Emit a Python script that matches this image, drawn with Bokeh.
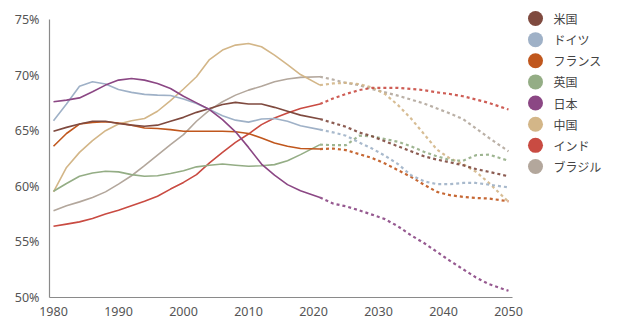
from bokeh.plotting import figure
from bokeh.models import Range1d, FixedTicker, PrintfTickFormatter
from bokeh.core.properties import value
from bokeh.embed import file_html
from bokeh.resources import INLINE

countries = ["米国", "ドイツ", "フランス", "英国", "日本", "中国", "インド", "ブラジル"]
colors = ["#7f4a3f", "#9fb1c7", "#c0571d", "#94ad85", "#8b4784", "#d3b688", "#c94b42", "#b3a79c"]

hist_years = [1980, 1982, 1984, 1986, 1988, 1990, 1992, 1994, 1996, 1998, 2000,
              2002, 2004, 2006, 2008, 2010, 2012, 2014, 2016, 2018, 2021]
proj_years = [2021, 2023, 2025, 2027, 2029, 2031, 2033, 2035, 2037, 2039, 2041,
              2043, 2045, 2047, 2050]

us_hist = [64.95, 65.3, 65.6, 65.85, 65.85, 65.65, 65.5, 65.4, 65.5, 65.85, 66.2,
           66.65, 67.0, 67.35, 67.55, 67.4, 67.4, 67.1, 66.75, 66.4, 66.05]
us_proj = [66.05, 65.7, 65.35, 64.85, 64.5, 64.05, 63.6, 63.15, 62.7, 62.4, 62.15,
           61.9, 61.55, 61.3, 60.9]

de_hist = [65.9, 67.4, 69.0, 69.4, 69.2, 68.7, 68.45, 68.27, 68.2, 68.17, 67.85,
           67.45, 66.9, 66.35, 65.95, 65.77, 66.05, 66.1, 65.85, 65.45, 65.1]
de_proj = [65.1, 64.85, 64.55, 63.95, 63.4, 62.75, 62.0, 61.0, 60.45, 60.2, 60.2,
           60.3, 60.3, 60.15, 59.9]

fr_hist = [63.6, 64.75, 65.6, 65.75, 65.8, 65.7, 65.5, 65.25, 65.2, 65.1, 64.95,
           64.95, 64.95, 64.95, 64.9, 64.75, 64.35, 63.9, 63.6, 63.4, 63.35]
fr_proj = [63.35, 63.4, 63.25, 62.9, 62.55, 62.05, 61.45, 60.85, 60.15, 59.5, 59.2,
           59.05, 58.95, 58.9, 58.65]

uk_hist = [59.55, 60.25, 60.9, 61.2, 61.35, 61.3, 61.05, 60.9, 60.95, 61.15, 61.4,
           61.75, 61.9, 62.0, 61.9, 61.8, 61.85, 61.95, 62.3, 62.85, 63.75]
uk_proj = [63.75, 63.7, 63.7, 64.55, 64.5, 64.25, 64.0, 63.6, 63.1, 62.7, 62.35,
           62.3, 62.8, 62.85, 62.3]

jp_hist = [67.6, 67.75, 67.95, 68.5, 69.1, 69.55, 69.7, 69.55, 69.25, 68.8, 68.1,
           67.5, 66.9, 66.0, 64.9, 63.5, 62.0, 61.0, 60.15, 59.6, 59.0]
jp_proj = [59.0, 58.45, 58.2, 57.85, 57.45, 57.05, 56.4, 55.6, 54.9, 54.1, 53.3,
           52.55, 51.8, 51.2, 50.6]

cn_hist = [59.5, 61.7, 63.05, 64.1, 65.0, 65.6, 65.9, 66.1, 66.75, 67.7, 68.75,
           69.85, 71.4, 72.25, 72.7, 72.85, 72.55, 71.8, 70.95, 70.05, 69.1]
cn_proj = [69.1, 69.25, 69.3, 69.2, 68.9, 68.3, 67.3, 66.1, 64.7, 63.3, 62.5,
           62.0, 61.3, 60.3, 58.6]

in_hist = [56.4, 56.6, 56.8, 57.1, 57.5, 57.85, 58.25, 58.65, 59.1, 59.75, 60.35,
           61.05, 62.1, 63.05, 63.95, 64.7, 65.55, 66.15, 66.6, 67.0, 67.4]
in_proj = [67.4, 67.9, 68.3, 68.65, 68.85, 68.85, 68.85, 68.75, 68.65, 68.45, 68.3,
           68.1, 67.8, 67.5, 66.9]

br_hist = [57.8, 58.25, 58.6, 59.0, 59.5, 60.2, 60.95, 61.85, 62.8, 63.75, 64.65,
           65.85, 66.85, 67.6, 68.2, 68.65, 69.0, 69.4, 69.65, 69.8, 69.85]
br_proj = [69.85, 69.6, 69.3, 69.1, 68.75, 68.45, 68.15, 67.8, 67.45, 67.0, 66.55,
           66.05, 65.2, 64.35, 63.15]

hist = [us_hist, de_hist, fr_hist, uk_hist, jp_hist, cn_hist, in_hist, br_hist]
proj = [us_proj, de_proj, fr_proj, uk_proj, jp_proj, cn_proj, in_proj, br_proj]

x_ticks = [1980, 1990, 2000, 2010, 2020, 2030, 2040, 2050]
y_ticks = [50, 55, 60, 65, 70, 75]

FONT = "Noto Sans"
JP_FONT = "Noto Sans CJK JP"

X0, X1 = 1979.385, 2050.615
p = figure(width=622, height=335, output_backend="svg", toolbar_location=None,
           x_range=Range1d(X0, 2067.54), y_range=Range1d(50, 76.71),
           min_border_left=49, min_border_right=0, min_border_top=0, min_border_bottom=38)
p.outline_line_color = None
p.xgrid.grid_line_color = None
p.ygrid.grid_line_color = None

order = [7, 5, 6, 3, 2, 0, 1, 4]
for i in order:
    p.line(proj_years, proj[i], line_color=colors[i], line_width=2.2,
           line_dash="3 3", line_alpha=0.9)
for i in order:
    p.line(hist_years, hist[i], line_color=colors[i], line_width=1.6)

for ax in (p.xaxis[0], p.yaxis[0]):
    ax.axis_line_color = "#8a8a8a"
    ax.axis_line_width = 1.2
    ax.major_tick_line_color = None
    ax.minor_tick_line_color = None
    ax.major_tick_out = 0
    ax.major_tick_in = 0
    ax.major_label_text_color = "#555555"
    ax.major_label_text_font = FONT
    ax.major_label_text_font_size = "12.5px"

p.xaxis.bounds = (X0, X1)
p.yaxis.bounds = (50, 75)
p.xaxis.ticker = FixedTicker(ticks=x_ticks)
p.yaxis.ticker = FixedTicker(ticks=y_ticks)
p.yaxis.formatter = PrintfTickFormatter(format="%d%%")
p.xaxis.major_label_standoff = 9
p.yaxis.major_label_standoff = 10

# legend laid out by category index in its own ranges
p.extra_x_ranges = {"leg": Range1d(0, 573)}
p.extra_y_ranges = {"leg": Range1d(13.197, -0.851)}
idx = list(range(len(countries)))
p.scatter([486] * len(idx), idx, size=15, fill_color=colors, line_color=None,
          x_range_name="leg", y_range_name="leg")
p.text([504] * len(idx), idx, text=countries, text_baseline="middle", text_align="left",
       text_font=value(JP_FONT), text_font_size="12px", text_color="#444444",
       x_range_name="leg", y_range_name="leg")

open("out.html", "w").write(file_html(p, INLINE))
